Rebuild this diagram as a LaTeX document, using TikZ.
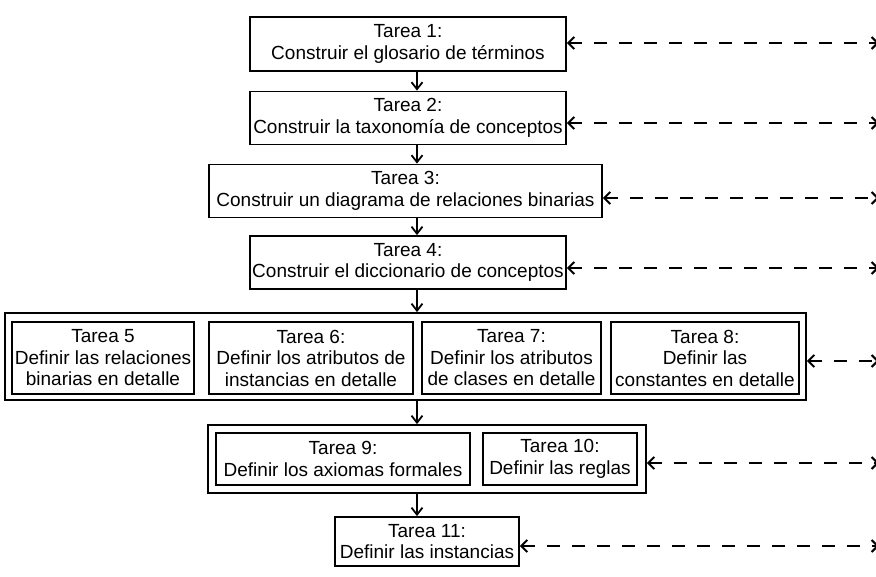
\documentclass[tikz,border=0pt]{standalone}
\usepackage{fontspec}
\setmainfont{Liberation Sans}
\usetikzlibrary{arrows.meta}
\tikzset{
  box/.style={draw, line width=1.8pt, inner sep=0pt, align=center,
    font=\fontsize{19}{21.5}\selectfont},
  grp/.style={draw, line width=1.8pt, inner sep=0pt},
  varrow/.style={line width=1.8pt, -{Straight Barb[length=7pt,width=11pt,line width=1.8pt]}},
  darrow/.style={line width=2pt, dash pattern=on 13pt off 12pt,
    {Straight Barb[length=6pt,width=12pt,line width=2pt]}-{Straight Barb[length=6pt,width=12pt,line width=2pt]}}
}
\begin{document}
\begin{tikzpicture}[x=1pt,y=-1pt]
\useasboundingbox (0,0) rectangle (876,576);
\node[box, minimum width=316, minimum height=54] (t1) at (408,44) {Tarea 1:\\Construir el glosario de términos};
\node[box, minimum width=316, minimum height=53] (t2) at (408,118) {Tarea 2:\\Construir la taxonomía de conceptos};
\node[box, minimum width=393, minimum height=53] (t3) at (405.5,191) {Tarea 3:\\Construir un diagrama de relaciones binarias};
\node[box, minimum width=316, minimum height=53] (t4) at (408,262.5) {Tarea 4:\\Construir el diccionario de conceptos};
\node[grp, minimum width=801, minimum height=87] (g1) at (405.5,356.5) {};
\node[box, minimum width=182, minimum height=72] (t5) at (103,358) {Tarea 5\\Definir las relaciones\\binarias en detalle};
\node[box, minimum width=204, minimum height=72] (t6) at (311,358) {Tarea 6:\\Definir los atributos de\\instancias en detalle};
\node[box, minimum width=179, minimum height=72] (t7) at (511.5,358) {Tarea 7:\\Definir los atributos\\de clases en detalle};
\node[box, minimum width=188, minimum height=72] (t8) at (705,358) {Tarea 8:\\Definir las\\constantes en detalle};
\node[grp, minimum width=438, minimum height=68] (g2) at (427,459) {};
\node[box, minimum width=254, minimum height=52] (t9) at (343,459) {Tarea 9:\\Definir los axiomas formales};
\node[box, minimum width=154, minimum height=52] (t10) at (560,459) {Tarea 10:\\Definir las reglas};
\node[box, minimum width=184, minimum height=49] (t11) at (427,541.5) {Tarea 11:\\Definir las instancias};
\coordinate (ax) at (417,0);
\draw[varrow] (t1.south -| ax) -- (t2.north -| ax);
\draw[varrow] (t2.south -| ax) -- (t3.north -| ax);
\draw[varrow] (t3.south -| ax) -- (t4.north -| ax);
\draw[varrow] (t4.south -| ax) -- (g1.north -| ax);
\draw[varrow] (g1.south -| ax) -- (g2.north -| ax);
\draw[varrow] (g2.south -| ax) -- (t11.north -| ax);
\coordinate (r1) at (879,43);
\coordinate (r2) at (879,123);
\coordinate (r3) at (879,198);
\coordinate (r4) at (879,268);
\coordinate (r5) at (879,361);
\coordinate (r6) at (879,463);
\coordinate (r7) at (879,546);
\draw[darrow] (t1.east |- r1) -- (r1);
\draw[darrow] (t2.east |- r2) -- (r2);
\draw[darrow] (t3.east |- r3) -- (r3);
\draw[darrow] (t4.east |- r4) -- (r4);
\draw[darrow] (g1.east |- r5) -- (r5);
\draw[darrow] (g2.east |- r6) -- (r6);
\draw[darrow] (t11.east |- r7) -- (r7);
\end{tikzpicture}
\end{document}
